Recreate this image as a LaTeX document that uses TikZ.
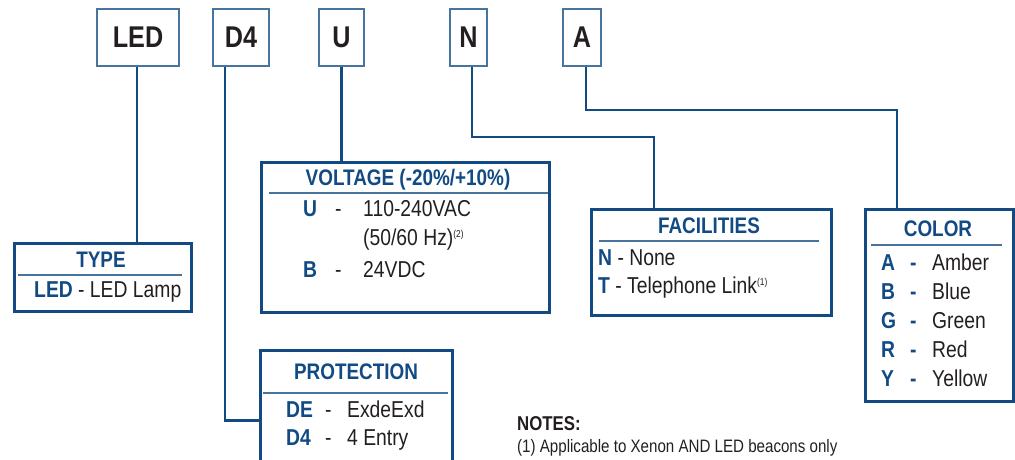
\documentclass[tikz,border=0pt]{standalone}
\usepackage{fontspec}
\setmainfont[FakeStretch=0.84]{Liberation Sans}
\usetikzlibrary{positioning,calc}
\definecolor{navy}{RGB}{18,74,132}
\definecolor{frame}{RGB}{72,116,160}
\definecolor{ink}{RGB}{35,31,32}
\newcommand{\cd}[1]{\textcolor{navy}{\bfseries #1}}
\newcommand{\fn}[1]{\raisebox{8pt}{\fontsize{10}{10}\selectfont(#1)}}
\tikzset{
    tag/.style={draw=frame, line width=1.4pt, minimum height=57pt, inner sep=0pt,
        font=\fontsize{30}{30}\selectfont\bfseries, text=ink}, % letter boxes on top
    panel/.style={draw=navy, line width=2.6pt, anchor=north west, inner sep=0pt},
    head/.style={font=\fontsize{22.5}{22.5}\selectfont\bfseries, text=navy, anchor=base, inner sep=0pt},
    code/.style={font=\fontsize{23}{23}\selectfont\bfseries, text=navy, anchor=base west, inner sep=0pt},
    desc/.style={font=\fontsize{23}{23}\selectfont, text=ink, anchor=base west, inner sep=0pt},
    rule/.style={draw=frame, line width=1.5pt},
    wire/.style={draw=navy, line width=2.6pt},
}

\begin{document}
\begin{tikzpicture}[x=1pt,y=-1pt]
   \useasboundingbox (0,0) rectangle (1015,460);
   \clip (0,0) rectangle (1015,460);
   % code letters
   \node[tag, minimum width=82pt] (led) at (138,37.5) {LED};
   \node[tag, minimum width=56pt] (d4)  at (241,37.5) {D4};
   \node[tag, minimum width=45pt] (u)   at (341.5,37.5) {U};
   \node[tag, minimum width=37pt] (n)   at (468.5,37.5) {N};
   \node[tag, minimum width=38pt] (a)   at (582,37.5) {A};
   % option panels
   \node[panel, minimum width=177pt, minimum height=68pt]  (type) at (13,242) {};
   \node[panel, minimum width=288pt, minimum height=150pt] (volt) at (260,161) {};
   \node[panel, minimum width=192pt, minimum height=140pt] (prot) at (259,349) {};
   \node[panel, minimum width=240pt, minimum height=106pt] (fac)  at (590,208) {};
   \node[panel, minimum width=148pt, minimum height=192pt] (col)  at (864,208) {};
   \coordinate (fbend) at (654,137);
   \coordinate (cbend) at (897,110);
   % connectors
   \draw[wire] (led.south) ++(-1,0) -- ++(0,175);
   \draw[wire] (d4.south) ++(-16,0) |- (prot.west);
   \draw[wire] (u.south) -- (u.south |- volt.north);
   \draw[wire] (n.south) ++(3.5,0) |- (fbend) -- (fbend |- fac.north);
   \draw[wire] (a.south) ++(4,0) |- (cbend) -- (cbend |- col.north);
   % TYPE
   \node[head] (typeh) at (101,267) {TYPE};
   \draw[rule] (18,275) -- (182,275);
   \node[desc] (type1) at (34,297) {\cd{LED} - LED Lamp};
   % VOLTAGE
   \node[head] (volth) at (408,185) {VOLTAGE (-20\%/+10\%)};
   \draw[rule] (269,193) -- (548,193);
   \node[code] (v1c) at (303,216) {U};
   \node[desc] (v1d) at (335,216) {-};
   \node[desc] (v1t) at (363,216) {110-240VAC};
   \node[desc] (v1u) at (363,245) {(50/60 Hz)\fn{2}};
   \node[code] (v2c) at (303,277) {B};
   \node[desc] (v2d) at (335,277) {-};
   \node[desc] (v2t) at (363,277) {24VDC};
   % PROTECTION
   \node[head] (proth) at (356,379) {PROTECTION};
   \draw[rule] (263,393) -- (448,393);
   \node[code] (p1c) at (286,417) {DE};
   \node[desc] (p1d) at (325,417) {-};
   \node[desc] (p1t) at (347,417) {ExdeExd};
   \node[code] (p2c) at (286,445) {D4};
   \node[desc] (p2d) at (325,445) {-};
   \node[desc] (p2t) at (347,445) {4 Entry};
   % FACILITIES
   \node[head] (fach) at (709,233) {FACILITIES};
   \draw[rule] (599,241) -- (819,241);
   \node[desc] (f1) at (598,265) {\cd{N} - None};
   \node[desc] (f2) at (598,293) {\cd{T} - Telephone Link\fn{1}};
   % COLOR
   \node[head] (colh) at (938,236) {COLOR};
   \draw[rule] (871,245) -- (1002,245);
   \foreach \k/\c/\w in {0/A/Amber,1/B/Blue,2/G/Green,3/R/Red,4/Y/Yellow}{
      \node[code] (c\k) at (881,270+29*\k) {\c};
      \node[code] (s\k) at (910,270+29*\k) {-};
      \node[desc] (w\k) at (932,270+29*\k) {\w};
   }
   % notes
   \node[anchor=base west, inner sep=0pt, text=ink, font=\fontsize{20}{20}\selectfont\bfseries] (notes) at (517,430) {NOTES:};
   \node[anchor=base west, inner sep=0pt, text=ink, font=\fontsize{18}{18}\selectfont] (note1) at (517,452) {(1) Applicable to Xenon AND LED beacons only};
\end{tikzpicture}
\end{document}
